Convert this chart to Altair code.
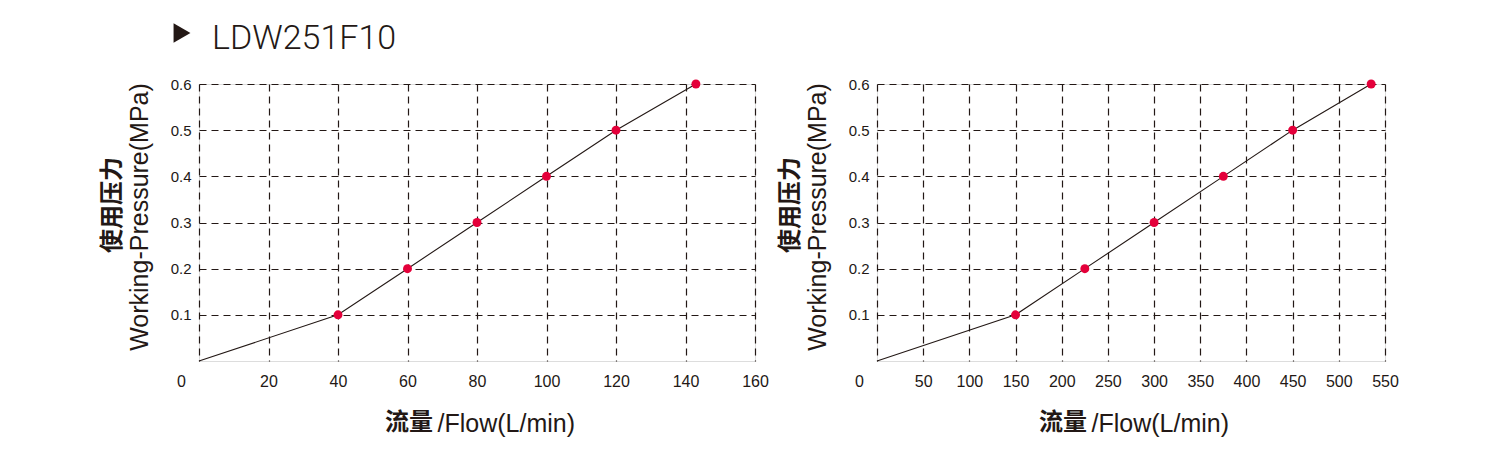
import altair as alt
import pandas as pd

# ---------------- data ----------------
model_name = "LDW251F10"
pressure = [0.0, 0.1, 0.2, 0.3, 0.4, 0.5, 0.6]
flow_left = [0, 40, 60, 80, 100, 120, 143]
flow_right = [0, 150, 225, 300, 375, 450, 535]
left_ticks = [0, 20, 40, 60, 80, 100, 120, 140, 160]
right_ticks = [0, 50, 100, 150, 200, 250, 300, 350, 400, 450, 500, 550]
y_ticks = [0.1, 0.2, 0.3, 0.4, 0.5, 0.6]
y_title_cn = "使用压力"
y_title_en = "Working-Pressure(MPa)"
x_title_cn = "流量"
x_title_en = "/Flow(L/min)"

INK = "#231815"
RED = "#e4003a"
H = 277
LATIN = "Liberation Sans"
CJK = "Noto Sans CJK SC"


def panel(flows, ticks, width, with_title=False):
    df = pd.DataFrame({"flow": flows, "pressure": pressure})
    xmax = ticks[-1]
    x = alt.X(
        "flow:Q",
        scale=alt.Scale(domain=[0, xmax], nice=False, zero=True),
        axis=alt.Axis(
            values=ticks,
            title=x_title_en,
            titleFont=LATIN,
            titleFontSize=25,
            titleFontWeight="normal",
            titleColor=INK,
            titleX=width / 2 - 40,
            titleY=62,
            titleAlign="left",
            titleBaseline="middle",
            labelFont=LATIN,
            labelFontSize=16,
            labelColor=INK,
            labelPadding=12,
            labelFlush=False,
            labelOverlap=False,
            labelOffset={"condition": {"test": "datum.value === 0", "value": -18}, "value": 0},
            ticks=False,
            domain=False,
            grid=True,
            gridColor=INK,
            gridDash=[7, 5],
            gridWidth=1.2,
        ),
    )
    y = alt.Y(
        "pressure:Q",
        scale=alt.Scale(domain=[0, 0.6], nice=False),
        axis=alt.Axis(
            values=y_ticks,
            format=".1f",
            title=y_title_en,
            titleFont=LATIN,
            titleFontSize=25,
            titleFontWeight="normal",
            titleColor=INK,
            titleX=-60,
            titleY=H / 2 - 6,
            titleAlign="center",
            titleBaseline="middle",
            titleAngle=270,
            labelFont=LATIN,
            labelFontSize=15,
            labelColor=INK,
            labelPadding=8,
            labelFlush=False,
            labelOverlap=False,
            ticks=False,
            domain=False,
            grid=True,
            gridColor=INK,
            gridDash=[7, 5],
            gridWidth=1.2,
        ),
    )
    base = alt.Chart(df)
    line = base.mark_line(color=INK, strokeWidth=1.1).encode(x=x, y=y)
    pts = base.transform_filter("datum.pressure > 0").mark_circle(
        color=RED, size=80, opacity=1
    ).encode(x=x, y=y)

    ycn = alt.Chart(pd.DataFrame({"t": [y_title_cn]})).mark_text(
        angle=270, font=CJK, fontSize=24, fontWeight="bold", color=INK,
        align="center", baseline="middle",
    ).encode(x=alt.value(-86), y=alt.value(121), text="t:N")

    xcn = alt.Chart(pd.DataFrame({"t": [x_title_cn]})).mark_text(
        font=CJK, fontSize=24, fontWeight="bold", color=INK,
        align="left", baseline="middle",
    ).encode(x=alt.value(width / 2 - 92), y=alt.value(H + 62), text="t:N")

    layers = [line, pts, ycn, xcn]
    if with_title:
        tri = alt.Chart(pd.DataFrame({"t": [model_name]})).mark_point(
            shape="triangle-right", filled=True, color=INK, opacity=1, size=380
        ).encode(x=alt.value(-17), y=alt.value(-51))
        ttl = alt.Chart(pd.DataFrame({"t": [model_name]})).mark_text(
            font="Roboto", fontSize=34, fontWeight=300, color=INK,
            align="left", baseline="alphabetic",
        ).encode(x=alt.value(13), y=alt.value(-35), text="t:N")
        layers += [tri, ttl]
    return alt.layer(*layers).properties(width=width, height=H)


left = panel(flow_left, left_ticks, 556, with_title=True)
right = panel(flow_right, right_ticks, 508)

chart = (
    alt.hconcat(left, right, spacing=9)
    .properties(padding={"left": 92, "top": 13, "right": 5, "bottom": 5})
    .configure_view(stroke=INK, strokeWidth=1.2)
    .configure(background="white")
)

chart.save("out.html", embed_options={"renderer": "svg", "actions": False})
